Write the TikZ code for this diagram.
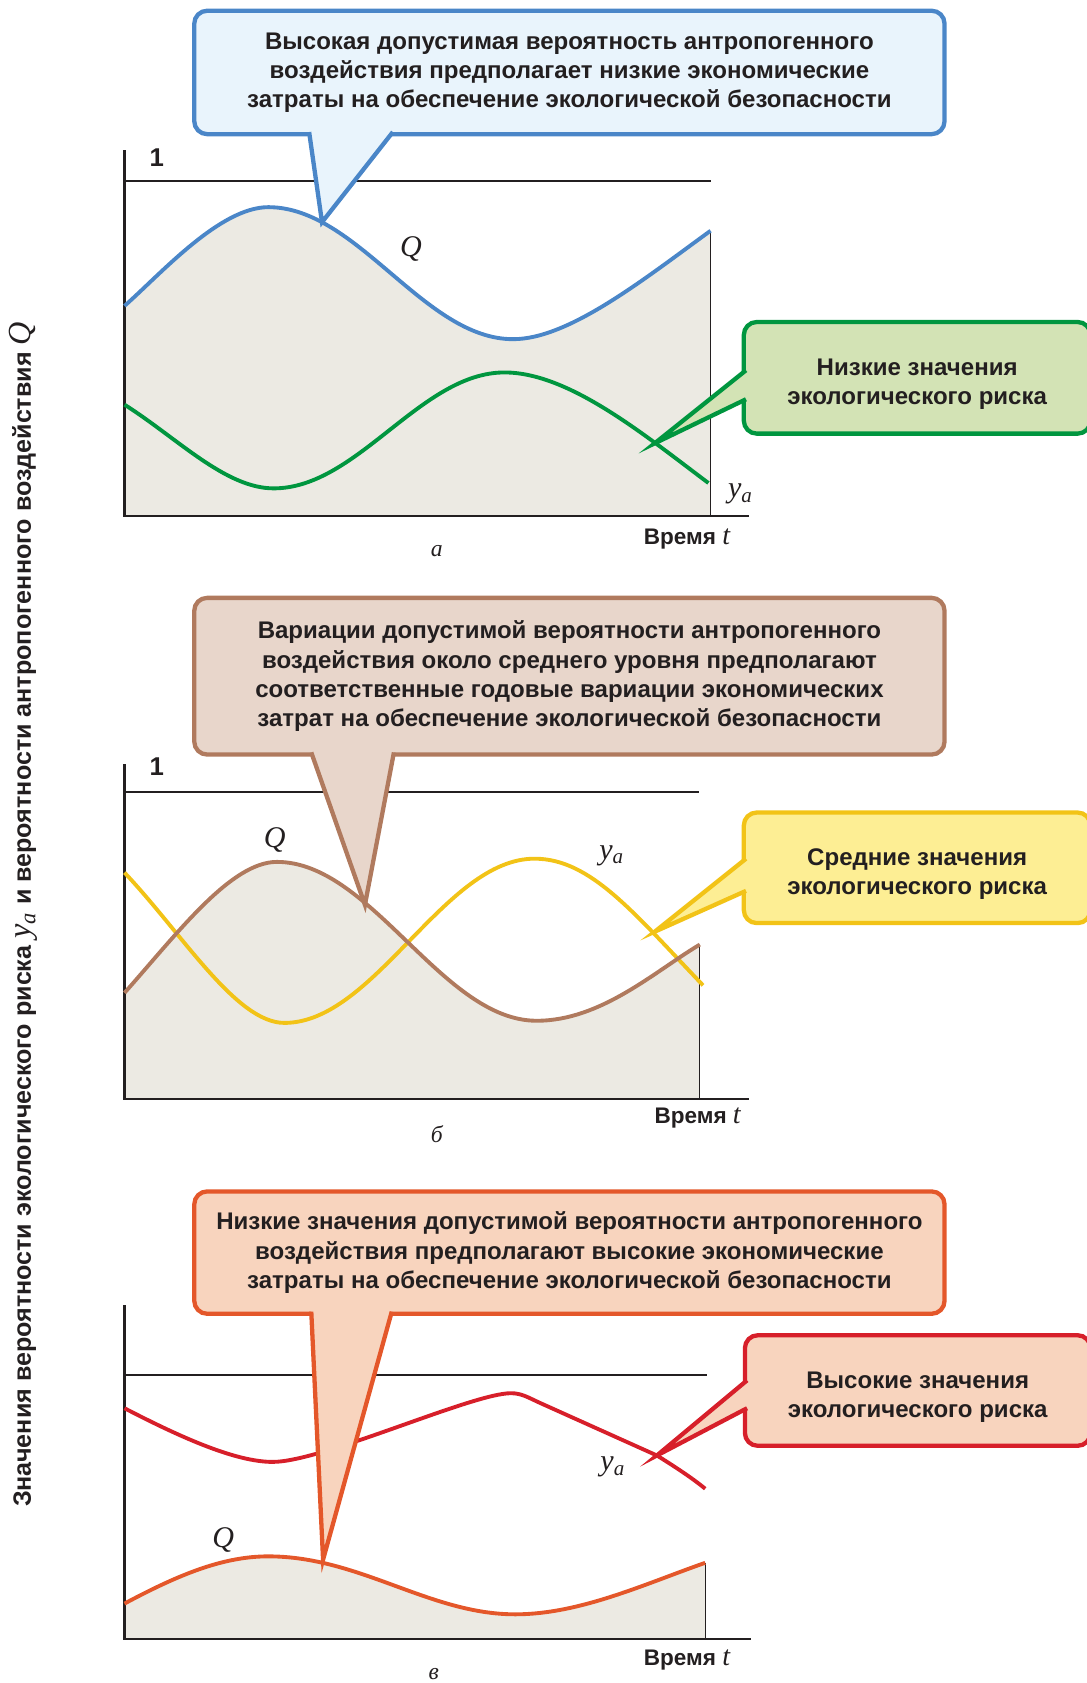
\documentclass[tikz,border=0pt]{standalone}
\usepackage{fontspec}
\setmainfont{Liberation Sans}
\newfontfamily\lserif{Liberation Serif}
\usepackage{tikz}
\usetikzlibrary{calc}
\definecolor{inkdark}{HTML}{231F20}
\definecolor{areagray}{HTML}{ECEAE3}
\definecolor{qblue}{HTML}{4A86C8}
\definecolor{qbluefill}{HTML}{E9F4FC}
\definecolor{riskgreen}{HTML}{00963F}
\definecolor{riskgreenfill}{HTML}{D3E3B5}
\definecolor{qbrown}{HTML}{B07A5E}
\definecolor{qbrownfill}{HTML}{E8D6CB}
\definecolor{riskyellow}{HTML}{F2C317}
\definecolor{riskyellowfill}{HTML}{FDEE94}
\definecolor{qorange}{HTML}{E4572A}
\definecolor{qorangefill}{HTML}{F8D4BE}
\definecolor{riskred}{HTML}{D71F2A}

\begin{document}
\begin{tikzpicture}[
    x=0.5pt, y=-0.5pt,
    callout/.style 2 args={rectangle, rounded corners=6pt, line width=2pt, draw=#1, fill=#2, outer sep=0pt, inner sep=0pt, align=center, text=inkdark, font=\bfseries\fontsize{11.2}{13.6}\selectfont},
    tailline/.style={line width=2pt, draw=#1, line join=miter},
    curve/.style={line width=1.8pt, color=#1, line join=round},
    axis/.style={line width=1pt, color=inkdark},
    edge/.style={line width=0.5pt, color=inkdark},
    axislabel/.style={font=\bfseries\fontsize{10.5}{12}\selectfont, text=inkdark},
    curvelabel/.style={font=\lserif\itshape\fontsize{14}{14}\selectfont, text=inkdark},
    panel/.style={font=\lserif\itshape\fontsize{11}{11}\selectfont, text=inkdark}
]
\useasboundingbox (0,0) rectangle (1012,1568);

% Vertical axis caption
\node[axislabel, font=\bfseries\fontsize{11.7}{13}\selectfont, rotate=90] (ylabel) at (22,852) {Значения вероятности экологического риска {\lserif\mdseries\itshape\fontsize{15}{15}\selectfont y\textsubscript{a}} и вероятности антропогенного воздействия {\lserif\mdseries\itshape\fontsize{15}{15}\selectfont Q}};

% Panel a: high Q, low risk
\fill[areagray] (116,285) .. controls (150,255) and (205,193) .. (250,193) .. controls (333,193) and (395,316) .. (478,316) .. controls (530,316) and (600,260) .. (662,215) |- (116,481) -- cycle;
\draw[edge] (662,215) -- (662,481);
\draw[axis] (116,140) -- (116,481) -- (698,481);
\draw[axis] (116,169) -- (662,169);
\node[axislabel, font=\bfseries\fontsize{12}{12}\selectfont] (oneA) at (146,147) {1};
\draw[curve=qblue] (116,285) .. controls (150,255) and (205,193) .. (250,193) .. controls (333,193) and (395,316) .. (478,316) .. controls (530,316) and (600,260) .. (662,215);
\draw[curve=riskgreen] (116,377) .. controls (165,408) and (210,455) .. (255,455) .. controls (333,455) and (392,347) .. (470,347) .. controls (530,347) and (600,405) .. (660,450);
\node[curvelabel] (qA) at (383,232) {Q};
\node[curvelabel] (yA) at (690,460) {y\textsubscript{a}};
\node[axislabel] (timeA) at (640,502) {Время {\lserif\mdseries\itshape\fontsize{13}{13}\selectfont t}};
\node[panel] (panelA) at (407,513) {а};

\node[callout={qblue}{qbluefill}, minimum width=349.5pt, minimum height=57.5pt] (calloutA) at (530.5,67.5) {Высокая допустимая вероятность антропогенного\\воздействия предполагает низкие экономические\\затраты на обеспечение экологической безопасности};
\coordinate (tipA) at (300,207);
\fill[qbluefill] ($(calloutA.south west)+(107,-3)$) -- (tipA) -- ($(calloutA.south west)+(185,-3)$) -- cycle;
\draw[tailline=qblue] ($(calloutA.south west)+(107,-2)$) -- (tipA) -- ($(calloutA.south west)+(185,-2)$);

\node[callout={riskgreen}{riskgreenfill}, minimum width=161.5pt, minimum height=52pt] (riskA) at (854.5,352) {\rule{0pt}{14pt}Низкие значения\\экологического риска};
\coordinate (riskTipA) at (610,413);
\fill[riskgreenfill] ($(riskA.north west)+(3,45)$) -- (riskTipA) -- ($(riskA.north west)+(3,72)$) -- cycle;
\draw[tailline=riskgreen] ($(riskA.north west)+(2,45)$) -- (riskTipA) -- ($(riskA.north west)+(2,72)$);

% Panel b: Q varies about the mean
\fill[areagray] (116,925) .. controls (165,870) and (215,803) .. (258,803) .. controls (346,803) and (412,951) .. (500,951) .. controls (560,951) and (610,905) .. (652,880) |- (116,1024) -- cycle;
\draw[edge] (652,880) -- (652,1024);
\draw[axis] (116,712) -- (116,1024) -- (698,1024);
\draw[axis] (116,738) -- (651,738);
\node[axislabel, font=\bfseries\fontsize{12}{12}\selectfont] (oneB) at (146,714) {1};
\draw[curve=riskyellow] (116,813) .. controls (170,870) and (220,953) .. (265,953) .. controls (349,953) and (414,800) .. (498,800) .. controls (550,800) and (590,850) .. (655,918);
\draw[curve=qbrown] (116,925) .. controls (165,870) and (215,803) .. (258,803) .. controls (346,803) and (412,951) .. (500,951) .. controls (560,951) and (610,905) .. (652,880);
\node[curvelabel] (qB) at (256,783) {Q};
\node[curvelabel] (yB) at (570,797) {y\textsubscript{a}};
\node[axislabel] (timeB) at (650,1042) {Время {\lserif\mdseries\itshape\fontsize{13}{13}\selectfont t}};
\node[panel] (panelB) at (407,1057) {б};

\node[callout={qbrown}{qbrownfill}, minimum width=349.5pt, minimum height=73pt] (calloutB) at (530.5,630) {Вариации допустимой вероятности антропогенного\\воздействия около среднего уровня предполагают\\соответственные годовые вариации экономических\\затрат на обеспечение экологической безопасности};
\coordinate (tipB) at (340,843);
\fill[qbrownfill] ($(calloutB.south west)+(109,-3)$) -- (tipB) -- ($(calloutB.south west)+(186,-3)$) -- cycle;
\draw[tailline=qbrown] ($(calloutB.south west)+(109,-2)$) -- (tipB) -- ($(calloutB.south west)+(186,-2)$);

\node[callout={riskyellow}{riskyellowfill}, minimum width=161.5pt, minimum height=51.5pt] (riskB) at (854.5,808.5) {\rule{0pt}{14pt}Средние значения\\экологического риска};
\coordinate (riskTipB) at (610,868);
\fill[riskyellowfill] ($(riskB.north west)+(3,43)$) -- (riskTipB) -- ($(riskB.north west)+(3,73)$) -- cycle;
\draw[tailline=riskyellow] ($(riskB.north west)+(2,43)$) -- (riskTipB) -- ($(riskB.north west)+(2,73)$);

% Panel c: low Q, high risk
\fill[areagray] (116,1494) .. controls (170,1465) and (210,1450) .. (250,1450) .. controls (335,1450) and (400,1504) .. (480,1504) .. controls (540,1504) and (600,1476) .. (657,1456) |- (116,1527) -- cycle;
\draw[edge] (657,1456) -- (657,1527);
\draw[axis] (116,1216) -- (116,1527) -- (700,1527);
\draw[axis] (116,1281) -- (659,1281);
\draw[curve=riskred] (116,1312) .. controls (170,1340) and (220,1362) .. (254,1362) .. controls (300,1362) and (440,1298) .. (476,1298) .. controls (486,1298) and (492,1302) .. (503,1307) -- (612,1356) .. controls (628,1366) and (645,1377) .. (657,1387);
\draw[curve=qorange] (116,1494) .. controls (170,1465) and (210,1450) .. (250,1450) .. controls (335,1450) and (400,1504) .. (480,1504) .. controls (540,1504) and (600,1476) .. (657,1456);
\node[curvelabel] (qC) at (208,1435) {Q};
\node[curvelabel] (yC) at (571,1367) {y\textsubscript{a}};
\node[axislabel] (timeC) at (640,1547) {Время {\lserif\mdseries\itshape\fontsize{13}{13}\selectfont t}};
\node[panel] (panelC) at (404,1560) {в};

\node[callout={qorange}{qorangefill}, minimum width=349.5pt, minimum height=57pt] (calloutC) at (530.5,1167) {Низкие значения допустимой вероятности антропогенного\\воздействия предполагают высокие экономические\\затраты на обеспечение экологической безопасности};
\coordinate (tipC) at (301,1453);
\fill[qorangefill] ($(calloutC.south west)+(109,-3)$) -- (tipC) -- ($(calloutC.south west)+(184,-3)$) -- cycle;
\draw[tailline=qorange] ($(calloutC.south west)+(109,-2)$) -- (tipC) -- ($(calloutC.south west)+(184,-2)$);

\node[callout={riskred}{qorangefill}, minimum width=161pt, minimum height=51.5pt] (riskC) at (855,1295.5) {\rule{0pt}{14pt}Высокие значения\\экологического риска};
\coordinate (riskTipC) at (612,1356);
\fill[qorangefill] ($(riskC.north west)+(3,42)$) -- (riskTipC) -- ($(riskC.north west)+(3,68)$) -- cycle;
\draw[tailline=riskred] ($(riskC.north west)+(2,42)$) -- (riskTipC) -- ($(riskC.north west)+(2,68)$);

\end{tikzpicture}
\end{document}
